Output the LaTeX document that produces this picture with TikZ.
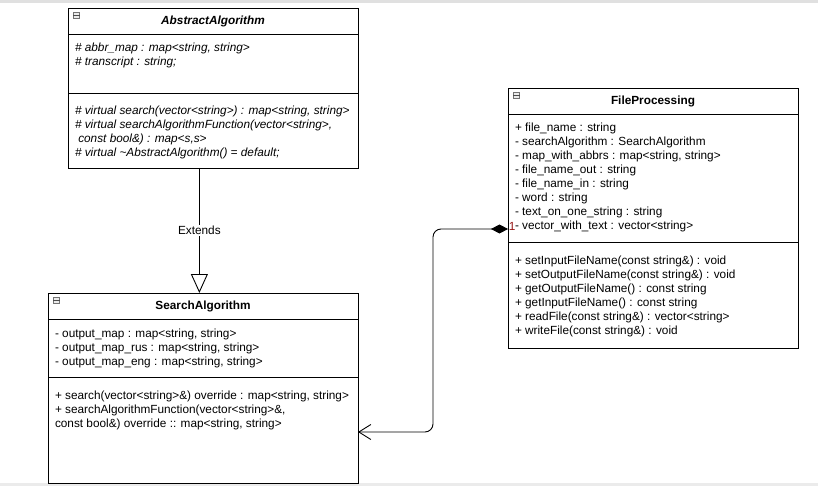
\documentclass[tikz,border=0pt]{standalone}
\usepackage{fontspec}
\setmainfont{Liberation Sans}
\usetikzlibrary{positioning}
\usetikzlibrary{calc, arrows.meta}
\newcommand{\umlfont}{\fontsize{11.8}{14}\selectfont}
\definecolor{multred}{RGB}{150,20,20}

\begin{document}
\begin{tikzpicture}[x=1pt, y=-1pt, node distance=0pt, line width=0.9pt]
        \umlfont
       \tikzstyle{classhead} = [
            rectangle,
            draw=black,
            inner sep=0pt,
            outer sep=0pt,
            minimum height=26pt,
            font=\umlfont\bfseries,
            anchor=north west
       ]
       \tikzstyle{attrs} = [
            rectangle,
            draw=black,
            inner xsep=7pt,
            inner ysep=6pt,
            outer sep=0pt,
            text height=12pt,
            align=flush left
       ]
       \tikzstyle{ops} = [
            attrs,
            text height=16pt
       ]
       \tikzstyle{foldicon} = [
            rectangle,
            draw=black!55,
            line width=0.6pt,
            fill=black!8,
            minimum size=6pt,
            inner sep=0pt,
            anchor=north west
       ]
       \tikzstyle{extends} = [-{Triangle[open, length=19pt, width=17pt, fill=white]}]
       \tikzstyle{composition} = [{Diamond[length=17pt, width=9pt]}-{Straight Barb[length=12pt, width=15pt]}, rounded corners=8pt]
       \useasboundingbox (0,0) rectangle (818,486);
       \draw[black!12, line width=3pt] (0,1.5) -- (818,1.5);
       \draw[black!8, line width=3pt] (0,484.5) -- (818,484.5);

       % AbstractAlgorithm
       \node (abstracthead) [classhead, minimum width=290pt] at (68,8) {\itshape AbstractAlgorithm};
       \node (abstractfields) [attrs, text width=276pt, text depth=35pt, below=of abstracthead] {\itshape
            \# abbr\_map : map<string, string>\\
            \# transcript : string;};
       \node (abstractops) [ops, text width=276pt, text depth=47pt, below=of abstractfields] {\itshape
            \# virtual search(vector<string>) : map<string, string>\\
            \# virtual searchAlgorithmFunction(vector<string>,\\
            \ const bool\&) : map<s,s>\\
            \# virtual \textasciitilde AbstractAlgorithm() = default;};

       % SearchAlgorithm
       \node (searchhead) [classhead, minimum width=310pt] at (48,293) {SearchAlgorithm};
       \node (searchfields) [attrs, text width=296pt, text depth=34pt, below=of searchhead] {
            - output\_map : map<string, string>\\
            - output\_map\_rus : map<string, string>\\
            - output\_map\_eng : map<string, string>};
       \node (searchops) [ops, text width=296pt, text depth=78pt, below=of searchfields] {
            + search(vector<string>\&) override : map<string, string>\\
            + searchAlgorithmFunction(vector<string>\&,\\
            const bool\&) override :: map<string, string>};

       % FileProcessing
       \node (filehead) [classhead, minimum width=290pt] at (508,88) {FileProcessing};
       \node (filefields) [attrs, text width=276pt, text depth=104pt, below=of filehead] {
            + file\_name : string\\
            - searchAlgorithm : SearchAlgorithm\\
            - map\_with\_abbrs : map<string, string>\\
            - file\_name\_out : string\\
            - file\_name\_in : string\\
            - word : string\\
            - text\_on\_one\_string : string\\
            - vector\_with\_text : vector<string>};
       \node (fileops) [ops, text width=276pt, text depth=78pt, below=of filefields] {
            + setInputFileName(const string\&) : void\\
            + setOutputFileName(const string\&) : void\\
            + getOutputFileName() : const string\\
            + getInputFileName() : const string\\
            + readFile(const string\&) : vector<string>\\
            + writeFile(const string\&) : void};

       \node (abstracticon) [foldicon] at ($(abstracthead.north west)+(5,4)$) {};
       \node (searchicon) [foldicon] at ($(searchhead.north west)+(5,4)$) {};
       \node (fileicon) [foldicon] at ($(filehead.north west)+(5,4)$) {};
       \draw[black!70, line width=0.6pt] (abstracticon.west) -- (abstracticon.east);
       \draw[black!70, line width=0.6pt] (searchicon.west) -- (searchicon.east);
       \draw[black!70, line width=0.6pt] (fileicon.west) -- (fileicon.east);

       % connectors
       \coordinate (extstart) at ($(abstractops.south west)!0.453!(abstractops.south east)$);
       \draw[extends] (extstart) -- (extstart |- searchhead.north) node[midway, fill=white, inner sep=1pt] {Extends};

       \coordinate (aggstart) at ($(filefields.north west)+(0,115)$);
       \coordinate (aggend) at ($(searchops.north east)+(0,55)$);
       \draw[composition] (aggstart) -| ($(aggstart)!0.5!(aggend)+(0,0)$) |- (aggend);
       \node (mult) [anchor=base west, inner sep=0pt, text=multred] at ($(aggstart)+(0.5,1)$) {1};
    \end{tikzpicture}
\end{document}
